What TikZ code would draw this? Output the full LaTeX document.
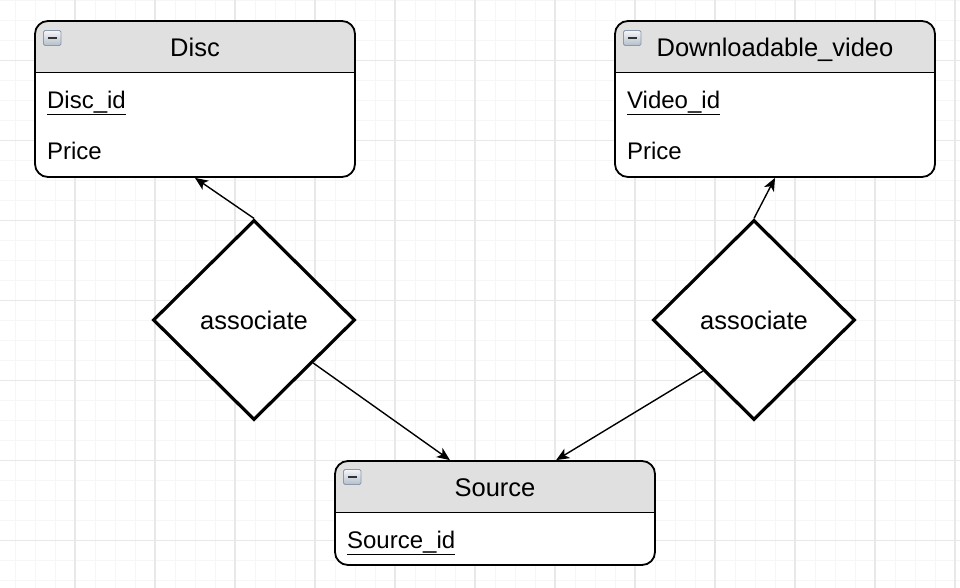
\documentclass[tikz,border=0pt]{standalone}
\usepackage{fontspec}
\setmainfont{Liberation Sans}
\usetikzlibrary{positioning, arrows.meta, shapes.geometric, calc}

\definecolor{headgray}{HTML}{E0E0E0}
\definecolor{gridmajor}{HTML}{E8E8E8}
\definecolor{gridminor}{HTML}{F6F6F6}
\definecolor{iconedge}{HTML}{8C9AAC}
\definecolor{icontop}{HTML}{F4F6F8}
\definecolor{iconbot}{HTML}{B4BECB}
\definecolor{iconbar}{HTML}{333333}

\tikzset{
  entity/.style={draw, line width=1.8pt, rounded corners=13pt, fill=white,
    minimum width=320pt, inner sep=0pt,
    path picture={
      \fill[headgray, sharp corners] (path picture bounding box.north west)
        rectangle ([yshift=-51.5pt]path picture bounding box.north east);
      \draw[line width=1.8pt, sharp corners] ([yshift=-51.5pt]path picture bounding box.north west)
        -- ([yshift=-51.5pt]path picture bounding box.north east);}},
  enttitle/.style={anchor=base, font=\fontsize{25.5}{30}\selectfont},
  entfield/.style={anchor=base west, font=\fontsize{24}{28}\selectfont},
  minbox/.style={draw=iconedge, line width=.8pt, rounded corners=1.5pt,
    top color=icontop, bottom color=iconbot, text=iconbar,
    minimum width=17.5pt, minimum height=15pt, inner sep=0pt},
  relation/.style={diamond, draw, line width=3.2pt, fill=white, inner sep=0pt,
    minimum width=202pt, minimum height=200pt, font=\fontsize{25.5}{30}\selectfont},
  conn/.style={-{Stealth[length=13pt, width=11pt, inset=3.5pt]}, line width=1.4pt},
}

\begin{document}
\begin{tikzpicture}[x=1pt, y=-1pt]
\useasboundingbox[fill=white] (0,0) rectangle (960,588);

% background grid
\foreach \x in {15,35,...,955} \draw[gridminor, line width=1pt] (\x,0) -- (\x,588);
\foreach \y in {0.5,20.5,...,580.5} \draw[gridminor, line width=1pt] (0,\y) -- (960,\y);
\foreach \x in {75,155,...,955} \draw[gridmajor, line width=1.1pt] (\x,0) -- (\x,588);
\foreach \y in {60.5,140.5,...,540.5} \draw[gridmajor, line width=1.1pt] (0,\y) -- (960,\y);

% entities
\node[entity, minimum height=156pt] (disc) at (195,99) {} ;
\node[entity, minimum height=156pt] (video) at (775,99) {} ;
\node[entity, minimum height=104pt] (source) at (495,513) {} ;

\node[minbox] (discicon) [below right=10pt and 9pt of disc.north west] {\rule{9pt}{2.8pt}} ;
\node[minbox] (videoicon) [below right=10pt and 9pt of video.north west] {\rule{9pt}{2.8pt}} ;
\node[minbox] (sourceicon) [below right=9pt and 9pt of source.north west] {\rule{9pt}{2.8pt}} ;

\node[enttitle] (disctitle) at ([yshift=-36.5pt]disc.north) {Disc} ;
\node[enttitle] (videotitle) at ([yshift=-36.5pt]video.north) {Downloadable\_video} ;
\node[enttitle] (sourcetitle) at ([yshift=-36.5pt]source.north) {Source} ;

\node[entfield] (discid) at ([xshift=9.5pt, yshift=-88pt]disc.north west) {\underline{Disc\_id}} ;
\node[entfield] (discprice) at ([xshift=9.5pt, yshift=-139pt]disc.north west) {Price} ;
\node[entfield] (videoid) at ([xshift=9.5pt, yshift=-88pt]video.north west) {\underline{Video\_id}} ;
\node[entfield] (videoprice) at ([xshift=9.5pt, yshift=-139pt]video.north west) {Price} ;
\node[entfield] (sourceid) at ([xshift=9.5pt, yshift=-88pt]source.north west) {\underline{Source\_id}} ;

% relationships
\node[relation] (ldia) at (254,320) {associate} ;
\node[relation] (rdia) at (754,320) {associate} ;

\draw[conn] (ldia.north) -- (disc.south) ;
\draw[conn] (ldia.-36) -- ($(source.north west)!0.36!(source.north east)$) ;
\draw[conn] (rdia.north) -- (video.south) ;
\draw[conn] (rdia.-135) -- ($(source.north west)!0.69!(source.north east)$) ;
\end{tikzpicture}
\end{document}
